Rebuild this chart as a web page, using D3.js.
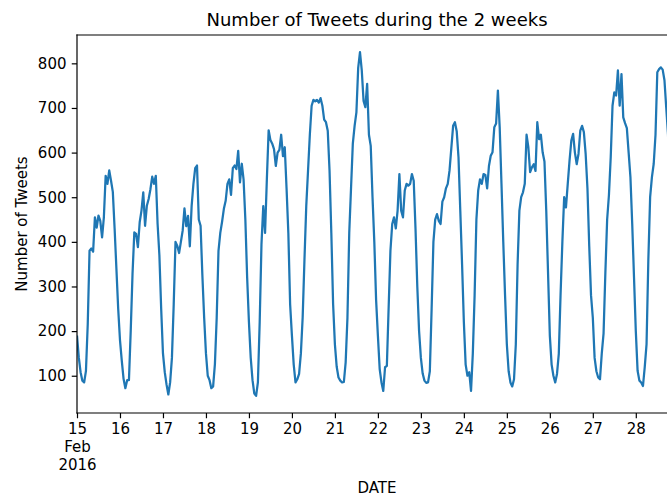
<!DOCTYPE html>
<html>
<head>
<meta charset="utf-8">
<script src="https://cdn.jsdelivr.net/npm/d3@7"></script>
<style>
  html, body { margin: 0; padding: 0; background: white; }
  svg { display: block; }
</style>
</head>
<body>
<div id="chart"></div>
<script>
// hourly tweet counts, one array per day (00:00 .. 23:00)
const feb15 = [190, 141, 108, 89, 85, 111, 216, 380, 385, 378, 455, 432, 459, 447, 410, 455, 548, 530, 560, 537, 512, 430, 340, 250];
const feb16 = [180, 134, 93, 72, 90, 90, 201, 328, 421, 418, 388, 444, 470, 511, 436, 481, 496, 518, 546, 530, 548, 440, 370, 250];
const feb17 = [150, 108, 80, 58, 85, 140, 260, 400, 391, 375, 400, 425, 475, 435, 458, 390, 480, 530, 565, 571, 450, 436, 325, 230];
const feb18 = [150, 100, 90, 72, 76, 126, 230, 380, 420, 445, 474, 492, 530, 540, 505, 565, 571, 563, 604, 533, 575, 540, 450, 320];
const feb19 = [220, 140, 90, 60, 55, 85, 220, 395, 480, 420, 540, 650, 628, 620, 608, 570, 600, 606, 640, 592, 612, 520, 420, 260];
const feb20 = [190, 125, 85, 92, 104, 150, 231, 360, 480, 560, 640, 705, 718, 715, 718, 712, 722, 705, 674, 668, 649, 560, 420, 260];
const feb21 = [170, 120, 96, 89, 85, 86, 130, 230, 420, 520, 620, 660, 690, 790, 825, 784, 716, 702, 754, 640, 615, 500, 400, 270];
const feb22 = [190, 115, 85, 66, 119, 122, 253, 380, 440, 455, 430, 470, 552, 470, 455, 515, 530, 526, 530, 552, 537, 430, 300, 200];
const feb23 = [140, 105, 89, 84, 85, 110, 250, 400, 450, 462, 447, 440, 490, 500, 520, 530, 560, 610, 660, 668, 648, 590, 470, 350];
const feb24 = [220, 125, 100, 108, 66, 150, 280, 450, 515, 540, 530, 552, 550, 520, 570, 593, 601, 657, 665, 739, 657, 530, 400, 280];
const feb25 = [170, 110, 85, 76, 92, 170, 350, 470, 500, 511, 530, 640, 612, 556, 567, 574, 559, 668, 630, 640, 600, 580, 470, 330];
const feb26 = [190, 125, 100, 85, 104, 149, 283, 400, 500, 477, 530, 582, 627, 642, 600, 574, 597, 649, 660, 646, 597, 520, 390, 280];
const feb27 = [230, 140, 110, 96, 92, 150, 195, 330, 450, 505, 590, 705, 735, 728, 784, 705, 776, 679, 666, 655, 600, 545, 440, 320];
const feb28 = [200, 111, 89, 85, 77, 120, 171, 360, 500, 545, 575, 640, 780, 787, 791, 786, 762, 700, 640, 520, 390, 270, 180, 120];

const days = [feb15, feb16, feb17, feb18, feb19, feb20, feb21, feb22, feb23, feb24, feb25, feb26, feb27, feb28];
const yTicks = [100, 200, 300, 400, 500, 600, 700, 800];
const firstTickLines = ["Feb", "2016"];

const titleText = "Number of Tweets during the 2 weeks";
const xLabel = "DATE";
const yLabel = "Number of Tweets";

// build the series: one point per hour starting 2016-02-15 00:00
const series = [];
days.forEach((vals, d) => {
  vals.forEach((v, h) => {
    series.push({ date: new Date(2016, 1, 15 + d, h), value: v });
  });
});

const width = 667;
const height = 496;
const axL = 77, axR = 677, axT = 35, axB = 413;
const font = "'DejaVu Sans', sans-serif";

const svg = d3
  .select("#chart")
  .append("svg")
  .attr("width", width)
  .attr("height", height)
  .style("background-color", "white");

const x = d3
  .scaleTime()
  .domain(d3.extent(series, (d) => d.date))
  .range([axL, axR]);

// matplotlib style 5% margins
const [lo, hi] = d3.extent(series, (d) => d.value);
const pad = (hi - lo) * 0.05;
const y = d3
  .scaleLinear()
  .domain([lo - pad, hi + pad])
  .range([axB, axT]);

svg.append("clipPath")
  .attr("id", "plot-clip")
  .append("rect")
  .attr("x", axL)
  .attr("y", axT)
  .attr("width", axR - axL)
  .attr("height", axB - axT);

// line
svg.append("path")
  .datum(series)
  .attr("clip-path", "url(#plot-clip)")
  .attr("fill", "none")
  .attr("stroke", "#1f77b4")
  .attr("stroke-width", 2.25)
  .attr("stroke-linejoin", "round")
  .attr("d", d3.line().x((d) => x(d.date)).y((d) => y(d.value)));

// y axis
const yAxis = svg.append("g")
  .attr("transform", `translate(${axL},0)`)
  .call(d3.axisLeft(y).tickValues(yTicks).tickSize(5.25).tickPadding(5.25));

// x axis, one tick per day (15 .. 28)
const dayTicks = d3.timeDay.range(x.domain()[0], x.domain()[1]);
const xAxis = svg.append("g")
  .attr("transform", `translate(0,${axB})`)
  .call(d3.axisBottom(x).tickValues(dayTicks).tickFormat(d3.timeFormat("%-d")).tickSize(5.25).tickPadding(5.25));

[xAxis, yAxis].forEach((ax) => {
  ax.select(".domain").remove();
  ax.selectAll(".tick line").attr("stroke", "black").attr("stroke-width", 1.2);
  ax.selectAll(".tick text")
    .attr("fill", "black")
    .attr("font-family", font)
    .attr("font-size", 15);
});

xAxis.select(".tick text").each(function () {
  const t = d3.select(this);
  firstTickLines.forEach((s) => {
    t.append("tspan").attr("x", 0).attr("dy", "1.2em").text(s);
  });
});

// spines
const spines = svg.append("g").attr("stroke", "black").attr("stroke-width", 1.2).attr("stroke-linecap", "square");
spines.append("line").attr("x1", axL).attr("x2", axL).attr("y1", axT).attr("y2", axB);
spines.append("line").attr("x1", axL).attr("x2", axR).attr("y1", axB).attr("y2", axB);
spines.append("line").attr("x1", axL).attr("x2", axR).attr("y1", axT).attr("y2", axT);
spines.append("line").attr("x1", axR).attr("x2", axR).attr("y1", axT).attr("y2", axB);

// labels
svg.append("text")
  .attr("x", (axL + axR) / 2)
  .attr("y", 26)
  .attr("text-anchor", "middle")
  .attr("font-family", font)
  .attr("font-size", 18)
  .text(titleText);

svg.append("text")
  .attr("x", (axL + axR) / 2)
  .attr("y", 493)
  .attr("text-anchor", "middle")
  .attr("font-family", font)
  .attr("font-size", 15)
  .text(xLabel);

svg.append("text")
  .attr("transform", `translate(27,${(axT + axB) / 2}) rotate(-90)`)
  .attr("text-anchor", "middle")
  .attr("font-family", font)
  .attr("font-size", 15)
  .text(yLabel);
</script>
</body>
</html>
